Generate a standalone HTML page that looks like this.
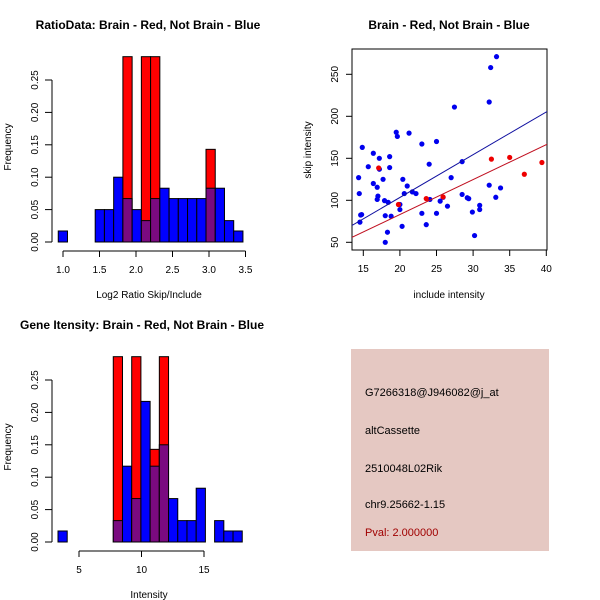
<!DOCTYPE html>
<html><head><meta charset="utf-8"><style>
body{margin:0;background:#fff}
svg{display:block;font-family:"Liberation Sans",sans-serif}
</style></head><body>
<svg id="s" width="600" height="600" viewBox="0 0 600 600">
<rect width="600" height="600" fill="#fff"/>
<text x="148" y="29" text-anchor="middle" font-size="12" font-weight="bold">RatioData: Brain - Red, Not Brain - Blue</text>
<text x="449" y="29" text-anchor="middle" font-size="12" font-weight="bold">Brain - Red, Not Brain - Blue</text>
<text x="142" y="329" text-anchor="middle" font-size="12" font-weight="bold">Gene Itensity: Brain - Red, Not Brain - Blue</text>
<text x="149" y="298" text-anchor="middle" font-size="10">Log2 Ratio Skip/Include</text>
<text x="149" y="598" text-anchor="middle" font-size="10">Intensity</text>
<text x="449" y="298" text-anchor="middle" font-size="10">include intensity</text>
<text transform="translate(11,147) rotate(-90)" text-anchor="middle" font-size="10">Frequency</text>
<text transform="translate(11,447) rotate(-90)" text-anchor="middle" font-size="10">Frequency</text>
<text transform="translate(311,150) rotate(-90)" text-anchor="middle" font-size="10">skip intensity</text>
<g>
<rect x="351" y="349" width="198" height="202" fill="#e5c8c2"/>
<text x="365" y="396" font-size="11">G7266318@J946082@j_at</text>
<text x="365" y="434" font-size="11">altCassette</text>
<text x="365" y="472" font-size="11">2510048L02Rik</text>
<text x="365" y="508" font-size="11">chr9.25662-1.15</text>
<text x="365" y="536" font-size="11" fill="#a00000">Pval: 2.000000</text>
</g>
</svg>
<script>
// Ratio histogram data
const ratioX0 = 0.935, ratioW = 0.1265;
const ratioBlue = [0.017,0,0,0,0.05,0.05,0.10,0.067,0.05,0.033,0.067,0.083,0.067,0.067,0.067,0.067,0.083,0.083,0.033,0.017];
const ratioRed  = [0,0,0,0,0,0,0,0.286,0,0.286,0.286,0,0,0,0,0,0.143,0,0,0];
const ratioXTicks = [1.0,1.5,2.0,2.5,3.0,3.5];
const freqTicks = [0,0.05,0.10,0.15,0.20,0.25];
// Intensity histogram data
const intX0 = 3.32, intW = 0.737;
const intBlue = [0.017,0,0,0,0,0,0.033,0.117,0.067,0.217,0.117,0.15,0.067,0.033,0.033,0.083,0,0.033,0.017,0.017];
const intRed  = [0,0,0,0,0,0,0.286,0,0.286,0,0.143,0.286,0,0,0,0,0,0,0,0];
const intXTicks = [5,10,15];
// Scatter data
const blueX = [14.86,14.36,14.45,14.64,14.77,14.54,15.68,16.37,16.37,17.19,16.9,17.0,16.9,17.2,17.7,18.6,18.6,17.9,18.4,18.0,18.8,18.3,18.0,19.5,19.65,21.25,20.0,20.0,20.4,20.6,21.0,20.3,21.7,22.2,23.0,23.0,23.6,24.0,24.1,25.0,25.0,25.5,25.9,26.5,27.45,27.0,28.5,28.5,29.2,29.4,29.9,30.2,30.9,30.9,32.4,33.2,32.2,32.2,33.1,33.75];
const blueY = [163,127,108,82.5,83,74,140,156,120,150,115.5,105,101,137,125,139,152,99.6,97.6,81.7,81,62,50,181,176,180,95,89,125,108,117,69,110,108,167,84.5,71,143,101,170,84.5,99,103.6,93,211,127,146,107,103,102,86,58,94,89,258,271,217,118,103.6,114.7];
const redX = [17.1,19.8,23.6,25.9,32.5,35.0,37.0,39.4];
const redY = [138.5,95,102,104,149,151,131,145];
const blueFit = [1.6,5.09];
const redFit = [-0.1,4.16];
const scXTicks = [15,20,25,30,35,40];
const scYTicks = [50,100,150,200,250];

const NS="http://www.w3.org/2000/svg", svg=document.getElementById('s');
function el(t,a,p){const e=document.createElementNS(NS,t);for(const k in a)e.setAttribute(k,a[k]);(p||svg).appendChild(e);return e;}

function hist(x0,w,blue,red,xTicks,sx,oy,name){
  const sy=v=>oy-v*648;
  const g=el('g',{});
  
  
  blue.forEach((b,i)=>{
    const xa=sx(x0+i*w), xb=sx(x0+(i+1)*w), r=red[i];
    if(r>0){const e=el('rect',{x:xa,y:sy(r),width:xb-xa,height:sy(0)-sy(r),fill:'#ff0000',stroke:'#000','stroke-width':1},g);
      
      }
    if(b>0){const c=r>0?'#7a0a80':'#0000ff';const h=r>0?Math.min(b,r):b;
      const e=el('rect',{x:xa,y:sy(h),width:xb-xa,height:sy(0)-sy(h),fill:c,stroke:'#000','stroke-width':1},g);
      
      }
  });
  // y axis
  const ax=el('g',{stroke:'#000','stroke-width':1,fill:'none'},g);
  
  
  el('line',{x1:52,x2:52,y1:sy(0),y2:sy(0.25)},ax);
  freqTicks.forEach(t=>{el('line',{x1:45,x2:52,y1:sy(t),y2:sy(t)},ax);
    const tx=el('text',{transform:`translate(38,${sy(t)}) rotate(-90)`,'text-anchor':'middle','font-size':10,stroke:'none',fill:'#000'},g);
    tx.textContent=t.toFixed(2);
    
    });
  const xa=el('g',{stroke:'#000','stroke-width':1},g);
  
  
  const ay=oy+9;
  el('line',{x1:sx(xTicks[0]),x2:sx(xTicks[xTicks.length-1]),y1:ay,y2:ay},xa);
  xTicks.forEach(t=>{el('line',{x1:sx(t),x2:sx(t),y1:ay,y2:ay+6},xa);
    const tx=el('text',{x:sx(t),y:ay+22,'text-anchor':'middle','font-size':10},g);
    tx.textContent=Number.isInteger(t)&&xTicks[0]>=5?String(t):t.toFixed(1);
    
    });
}
hist(ratioX0,ratioW,ratioBlue,ratioRed,ratioXTicks,v=>63+(v-1)*73,242,'ratio-histogram');
hist(intX0,intW,intBlue,intRed,intXTicks,v=>79+(v-5)*12.5,542,'intensity-histogram');

// scatter
const sxs=v=>363.3+(v-15)*7.32, sys=v=>242.3-(v-50)*0.84;
const sg=el('g',{});


const cp=el('clipPath',{id:'cp'},sg);el('rect',{x:352,y:49,width:195,height:201},cp);
const fr=el('rect',{x:352,y:49,width:195,height:201,fill:'none',stroke:'#000'},sg);


blueX.forEach((x,i)=>{const c=el('circle',{cx:sxs(x),cy:sys(blueY[i]),r:2.6,fill:'#0000ee'},sg);
  
  });
redX.forEach((x,i)=>{const c=el('circle',{cx:sxs(x),cy:sys(redY[i]),r:2.6,fill:'#ee0000'},sg);
  
  });
[[blueFit,'#1010a0','blue-fit-line'],[redFit,'#c01020','red-fit-line']].forEach(([f,c,n])=>{
  const xa=12,xb=42;
  const l=el('line',{x1:sxs(xa),y1:sys(f[0]+f[1]*xa),x2:sxs(xb),y2:sys(f[0]+f[1]*xb),stroke:c,'stroke-width':1,'clip-path':'url(#cp)'},sg);
  
  
});
scXTicks.forEach(t=>{el('line',{x1:sxs(t),x2:sxs(t),y1:250,y2:256,stroke:'#000'},sg);
  const tx=el('text',{x:sxs(t),y:272,'text-anchor':'middle','font-size':10},sg);tx.textContent=t;
  
  });
scYTicks.forEach(t=>{el('line',{x1:346,x2:352,y1:sys(t),y2:sys(t),stroke:'#000'},sg);
  const tx=el('text',{transform:`translate(338,${sys(t)}) rotate(-90)`,'text-anchor':'middle','font-size':10},sg);tx.textContent=t;
  
  });
</script>
</body></html>
